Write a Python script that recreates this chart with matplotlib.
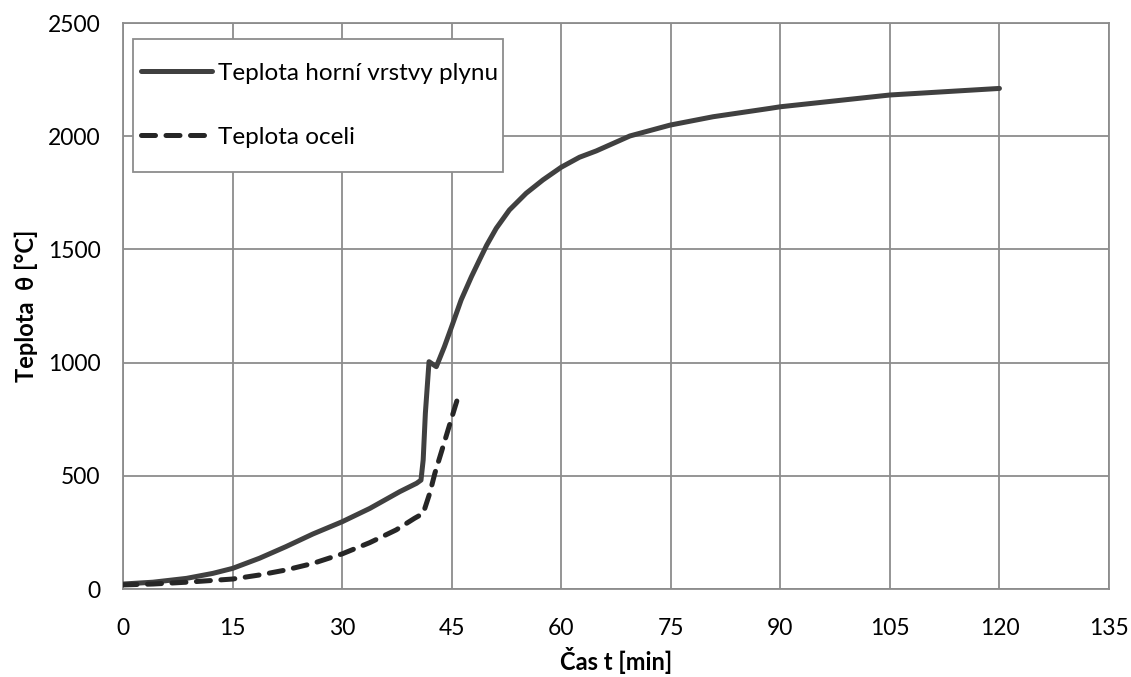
import matplotlib
matplotlib.use('Agg')
import matplotlib.pyplot as plt
from matplotlib.patches import Rectangle

plt.rcParams['font.family'] = ['Lato', 'DejaVu Sans']

# Teplota horni vrstvy plynu
gas_t = [0, 4.1, 8.7, 12.3, 15, 18.7, 22.3, 26, 30, 33.8, 37.9, 40.2, 40.8,
         41.1, 41.4, 41.9, 42.9, 44.0, 45.0, 46.3, 47.7, 48.8, 49.8, 51.1, 52.9,
         55.2, 57.5, 60, 62.5, 64.8, 69.4, 74.9, 80.8, 88.6, 90, 105, 120]
gas_temp = [22, 30, 47, 69, 91, 136, 187, 243, 297, 356, 430, 467, 481,
            570, 777, 1004, 982, 1070, 1159, 1277, 1379, 1453, 1519, 1593, 1674,
            1748, 1807, 1863, 1907, 1935, 2001, 2049, 2086, 2123, 2130, 2182, 2211]

# Teplota oceli
steel_t = [0, 4.1, 8.7, 15, 18.7, 22.3, 26, 30, 33.8, 37.4, 39.9, 41.1, 42.0,
           42.7, 43.6, 44.5, 45.4, 46.0]
steel_temp = [18, 22, 30, 44, 62, 84, 113, 155, 205, 261, 312, 334, 423,
              511, 606, 702, 798, 861]

x_ticks = list(range(0, 136, 15))
y_ticks = list(range(0, 2501, 500))

fig = plt.figure(figsize=(11.31, 6.77), dpi=100)
ax = fig.add_axes([123 / 1131, 88 / 677, 986 / 1131, 566 / 677])

ax.plot(gas_t, gas_temp, color='#404040', lw=3.6, solid_capstyle='round',
        solid_joinstyle='round', label='Teplota horní vrstvy plynu', zorder=3)
ax.plot(steel_t, steel_temp, color='#262626', lw=3.6, linestyle=(0, (2.8, 2.1)),
        dash_capstyle='round', label='Teplota oceli', zorder=3)

ax.set_xlim(0, 135)
ax.set_ylim(0, 2500)
ax.set_xticks(x_ticks)
ax.set_yticks(y_ticks)
ax.grid(True, color='#8c8c8c', lw=1.3)
ax.set_axisbelow(True)
for s in ax.spines.values():
    s.set_color('#8c8c8c')
    s.set_linewidth(1.3)
ax.tick_params(axis='both', length=0, labelsize=16.5)
ax.tick_params(axis='y', pad=16)
ax.tick_params(axis='x', pad=21)

ax.set_xlabel('Čas t [min]', fontsize=17, fontweight='bold', labelpad=6)
ax.set_ylabel('Teplota  θ [°C]', fontsize=17, fontweight='bold', labelpad=7)

# legend box drawn separately (Excel-style padding)
ax.add_patch(Rectangle((0.0101, 0.7367), 0.3753, 0.235, transform=ax.transAxes,
                       facecolor='white', edgecolor='#8c8c8c', lw=1.3, zorder=4))
leg = ax.legend(loc='upper left', bbox_to_anchor=(0.0183, 0.930), fontsize=17.5,
                frameon=False, borderaxespad=0, borderpad=0, handlelength=2.9,
                handletextpad=0.28, labelspacing=1.77)
leg.set_zorder(5)

fig.savefig('out.png', dpi=100)
